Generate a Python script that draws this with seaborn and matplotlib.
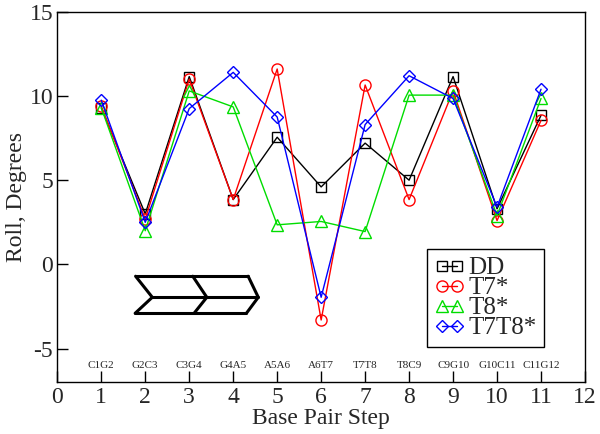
import matplotlib
matplotlib.use("Agg")
import matplotlib.pyplot as plt
import seaborn as sns
import pandas as pd

# data
steps = [1, 2, 3, 4, 5, 6, 7, 8, 9, 10, 11]
step_names = ["C1G2", "G2C3", "C3G4", "G4A5", "A5A6", "A6T7",
              "T7T8", "T8C9", "C9G10", "G10C11", "C11G12"]
roll_dd = [9.3, 3.0, 11.15, 3.85, 7.55, 4.6, 7.2, 5.0, 11.15, 3.3, 8.85]
roll_t7 = [9.4, 2.7, 11.0, 3.85, 11.6, -3.3, 10.65, 3.85, 10.3, 2.6, 8.55]
roll_t8 = [9.3, 2.0, 10.3, 9.35, 2.35, 2.55, 1.95, 10.05, 10.05, 2.9, 9.85]
roll_t7t8 = [9.75, 2.5, 9.25, 11.4, 8.75, -1.95, 8.3, 11.2, 9.85, 3.4, 10.4]

# double chevron sketch (data coords)
chev_top = ([1.78, 4.34], [-0.7, -0.7])
chev_bot = ([1.77, 4.30], [-2.9, -2.9])
chev_mid = ([2.16, 4.57], [-1.95, -1.95])
chev_left = ([1.78, 2.16, 1.77], [-0.7, -1.95, -2.9])
chev_center = ([3.08, 3.40, 3.11], [-0.7, -1.95, -2.9])
chev_right = ([4.34, 4.57, 4.30], [-0.7, -1.95, -2.9])

series = [
    ("DD", roll_dd, "black", "s", 7),
    ("T7*", roll_t7, "red", "o", 8),
    ("T8*", roll_t8, "#00dd00", "^", 8),
    ("T7T8*", roll_t7t8, "blue", "D", 6.5),
]

sns.set_style("white")
plt.rcParams["font.family"] = "serif"
plt.rcParams["font.serif"] = ["Liberation Serif", "DejaVu Serif"]
plt.rcParams["axes.unicode_minus"] = False

fig = plt.figure(figsize=(6, 4.34), dpi=100)
ax = fig.add_axes([0.0955, 0.119, 0.8795, 0.854])

for name, vals, col, mk, ms in series:
    df = pd.DataFrame({"step": steps, "roll": vals})
    sns.lineplot(data=df, x="step", y="roll", ax=ax, color=col, marker=mk,
                 markersize=ms, markerfacecolor="none", markeredgecolor=col,
                 markeredgewidth=1, linewidth=1, label=name)

for xs, ys in [chev_top, chev_bot, chev_mid, chev_left, chev_center, chev_right]:
    ax.plot(xs, ys, color="black", linewidth=2.2, solid_capstyle="round")

for s, nm in zip(steps, step_names):
    ax.text(s, -6.0, nm, ha="center", va="center", fontsize=8)

ax.set_xlim(0, 12)
ax.set_ylim(-7, 15)
ax.set_xticks(range(0, 13))
ax.set_yticks([-5, 0, 5, 10, 15])
ax.set_yticks([-2.5, 2.5, 7.5, 12.5], minor=True)
ax.tick_params(axis="both", which="major", direction="in", labelsize=17,
               length=8, width=1, pad=3, color="black")
ax.tick_params(axis="y", which="minor", direction="in", length=5, width=1)
ax.tick_params(left=True, bottom=True)
ax.set_xlabel("Base Pair Step", fontsize=17, labelpad=0)
ax.set_ylabel("Roll, Degrees", fontsize=17, labelpad=2)

for sp in ax.spines.values():
    sp.set_color("black")
    sp.set_linewidth(1)

leg = ax.legend(loc="upper left", bbox_to_anchor=(0.701, 0.359), borderaxespad=0,
                numpoints=2, fontsize=18, frameon=True, fancybox=False,
                handlelength=1.2, handletextpad=0.15, labelspacing=-0.1,
                borderpad=0.3)
leg.get_frame().set_edgecolor("black")
leg.get_frame().set_linewidth(1)
leg.get_frame().set_alpha(1)

fig.savefig("out.png", dpi=100)
